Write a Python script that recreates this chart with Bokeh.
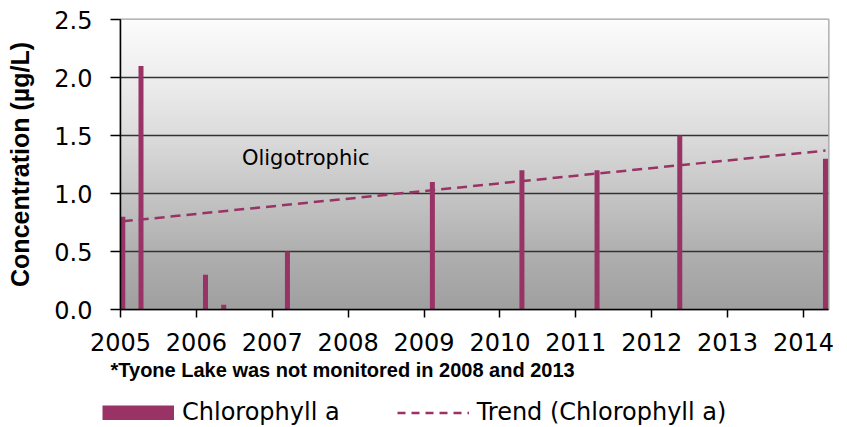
import numpy as np
from bokeh.plotting import figure
from bokeh.layouts import column, row
from bokeh.models import FixedTicker, Legend, LegendItem, Label, Range1d, Title
from bokeh.embed import file_html
from bokeh.resources import INLINE

# ---- data ----
sample_dates = [2005.03, 2005.27, 2006.12, 2006.36, 2007.20, 2009.11, 2010.29, 2011.28, 2012.37, 2014.29]
chlorophyll = [0.80, 2.10, 0.30, 0.04, 0.50, 1.10, 1.20, 1.20, 1.50, 1.30]
trend_dates = [2005.03, 2014.29]
trend_values = [0.76, 1.37]
year_ticks = [2005, 2006, 2007, 2008, 2009, 2010, 2011, 2012, 2013, 2014]
year_labels = ["2005", "2006", "2007", "2008", "2009", "2010", "2011", "2012", "2013", "2014"]
y_ticks = [0.0, 0.5, 1.0, 1.5, 2.0, 2.5]
y_labels = ["0.0", "0.5", "1.0", "1.5", "2.0", "2.5"]
series_names = ["Chlorophyll a", "Trend (Chlorophyll a)"]
footnote = "*Tyone Lake was not monitored in 2008 and 2013"
zone_label = "Oligotrophic"

X0, X1 = 2005.0, 2014.33
Y0, Y1 = 0.0, 2.5
BAR = "#993366"
FONT = "Liberation Sans"
TICKFONT = "DejaVu Sans"
W, H_MAIN, H_FOOT = 847, 387, 40

p = figure(width=W, height=H_MAIN, output_backend="svg", toolbar_location=None,
           x_range=Range1d(X0, X1), y_range=Range1d(Y0, Y1),
           min_border_left=120, min_border_right=19, min_border_top=19, min_border_bottom=78)
p.background_fill_color = "white"
p.border_fill_color = "white"
p.outline_line_color = "#a0a0a0"
p.outline_line_width = 2

# gradient background of the plot area
n = 256
t = np.linspace(0, 1, n)  # 0 bottom -> 1 top
stops_t = [0.0, 0.2, 0.4, 0.6, 0.8, 1.0]
stops_v = [160, 176, 198, 220, 238, 252]
g = np.interp(t, stops_t, stops_v).astype(np.uint32)
img = np.empty((n, 1), dtype=np.uint32)
view = img.view(dtype=np.uint8).reshape((n, 1, 4))
view[:, 0, 0] = g
view[:, 0, 1] = g
view[:, 0, 2] = g
view[:, 0, 3] = 255
p.image_rgba(image=[img], x=X0, y=Y0, dw=X1 - X0, dh=Y1 - Y0, level="image")

bars = p.vbar(x=sample_dates, top=chlorophyll, bottom=0, width=0.066,
              fill_color=BAR, line_color=None)
trend = p.line(trend_dates, trend_values, line_color=BAR, line_width=2.5,
               line_dash="10 6")

# axes
p.xgrid.visible = False
p.ygrid.ticker = FixedTicker(ticks=y_ticks)
p.ygrid.grid_line_color = "#333333"
p.ygrid.grid_line_width = 1.3

p.xaxis.ticker = FixedTicker(ticks=year_ticks)
p.xaxis.major_label_overrides = {t_: l for t_, l in zip(year_ticks, year_labels)}
p.yaxis.ticker = FixedTicker(ticks=y_ticks)
p.yaxis.major_label_overrides = {t_: l for t_, l in zip(y_ticks, y_labels)}

for ax in (p.xaxis[0], p.yaxis[0]):
    ax.axis_line_color = "black"
    ax.axis_line_width = 1.5
    ax.major_tick_line_color = "black"
    ax.major_tick_line_width = 1.5
    ax.major_tick_in = 0
    ax.minor_tick_line_color = None
    ax.major_label_text_font = TICKFONT
    ax.major_label_text_font_size = "24px"
    ax.major_label_text_color = "black"

p.xaxis.major_tick_out = 8
p.xaxis.major_label_standoff = 15
p.yaxis.major_tick_out = 10
p.yaxis.major_label_standoff = 18

p.yaxis.axis_label = "Concentration (µg/L)"
p.yaxis.axis_label_text_font = FONT
p.yaxis.axis_label_text_font_style = "bold"
p.yaxis.axis_label_text_font_size = "25px"
p.yaxis.axis_label_text_color = "black"
p.yaxis.axis_label_standoff = 17

p.add_layout(Label(x=2006.6, y=1.31, text=zone_label, text_font="DejaVu Sans",
                   text_font_size="21px", text_baseline="middle", text_align="left",
                   text_color="black"))

note = Title(text=footnote, align="left", offset=-10, standoff=6,
             text_font=FONT, text_font_style="bold", text_font_size="20px",
             text_color="black")
p.add_layout(note, "below")

# ---- footer: legend ----
f = figure(width=W, height=H_FOOT, output_backend="svg", toolbar_location=None,
           x_range=Range1d(0, 1), y_range=Range1d(0, 1),
           min_border=0, x_axis_location=None, y_axis_location=None)
f.outline_line_color = None
f.grid.visible = False
f.background_fill_color = "white"
f.border_fill_color = "white"

nan = float("nan")
leg_bar = f.line(x=[nan, nan], y=[nan, nan], line_color=BAR, line_width=15, line_cap="butt")
leg_line = f.line(x=[nan, nan], y=[nan, nan], line_color=BAR, line_width=2.5, line_dash="8 6")

legend = Legend(items=[LegendItem(label=series_names[0], renderers=[leg_bar]),
                       LegendItem(label=series_names[1], renderers=[leg_line])],
                orientation="horizontal", location=(102, 1),
                glyph_width=72, glyph_height=15, label_standoff=8, spacing=57,
                padding=0, margin=0, border_line_color=None, background_fill_alpha=0,
                label_text_font=TICKFONT, label_text_font_size="24px", label_text_color="black")
f.add_layout(legend, "center")

layout = column(p, row(f, spacing=0), spacing=0)
open("out.html", "w").write(file_html(layout, INLINE))
